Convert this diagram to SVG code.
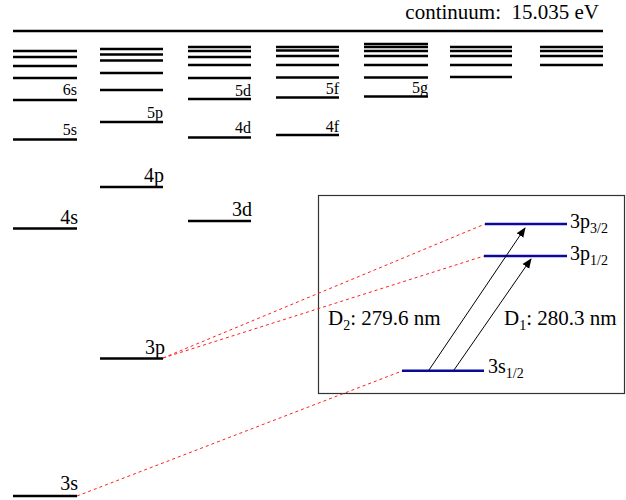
<svg xmlns="http://www.w3.org/2000/svg" width="626" height="500" viewBox="0 0 626 500" font-family="'Liberation Serif','Times New Roman',serif">
<defs>
<style>
.lv{stroke:#000;stroke-width:2.6;fill:none}
.bl{stroke:#0a0a9a;stroke-width:2.6;fill:none}
.t{font-family:'Liberation Serif','Times New Roman',serif;fill:#000}
.s{font-size:16px}
.L{font-size:20px}
.M{font-size:21px}
.rd{stroke:#ff2020;stroke-width:1;stroke-dasharray:3,3;fill:none}
.ar{stroke:#000;stroke-width:1;fill:none}
</style>
<marker id="ah" viewBox="0 0 10 10" refX="9" refY="5" markerWidth="10" markerHeight="10" markerUnits="userSpaceOnUse" orient="auto">
<path d="M0,1 L10,5 L0,9 z" fill="#000"/>
</marker>
</defs>
<rect width="626" height="500" fill="#fff"/>

<g id="continuum">
<line class="lv" x1="13" y1="31" x2="603" y2="31"/>
<text class="t" x="599" y="19" font-size="21" text-anchor="end" xml:space="preserve">continuum:  15.035 eV</text>
</g>

<g id="col-s-high">
<line class="lv" x1="13" y1="51" x2="77" y2="51"/>
<line class="lv" x1="13" y1="57" x2="77" y2="57"/>
<line class="lv" x1="13" y1="66" x2="77" y2="66"/>
<line class="lv" x1="13" y1="78" x2="77" y2="78"/>
</g>
<g id="lvl-6s"><line class="lv" x1="13" y1="100" x2="77" y2="100"/><text class="t s" x="77" y="95" text-anchor="end">6s</text></g>
<g id="lvl-5s"><line class="lv" x1="13" y1="139.5" x2="77" y2="139.5"/><text class="t s" x="77" y="135" text-anchor="end">5s</text></g>
<g id="lvl-4s"><line class="lv" x1="13" y1="228.5" x2="77" y2="228.5"/><text class="t L" x="78" y="224" text-anchor="end">4s</text></g>
<g id="lvl-3s"><line class="lv" x1="13" y1="496" x2="77" y2="496"/><text class="t L" x="78" y="490" text-anchor="end">3s</text></g>

<g id="col-p-high">
<line class="lv" x1="100" y1="49" x2="163" y2="49"/>
<line class="lv" x1="100" y1="54.5" x2="163" y2="54.5"/>
<line class="lv" x1="100" y1="60.5" x2="163" y2="60.5"/>
<line class="lv" x1="100" y1="73" x2="163" y2="73"/>
<line class="lv" x1="100" y1="90" x2="163" y2="90"/>
</g>
<g id="lvl-5p"><line class="lv" x1="100" y1="122" x2="163" y2="122"/><text class="t s" x="163" y="118" text-anchor="end">5p</text></g>
<g id="lvl-4p"><line class="lv" x1="100" y1="187" x2="163" y2="187"/><text class="t L" x="164" y="181.5" text-anchor="end">4p</text></g>
<g id="lvl-3p"><line class="lv" x1="100" y1="358.5" x2="163" y2="358.5"/><text class="t L" x="165" y="354" text-anchor="end">3p</text></g>

<g id="col-d-high">
<line class="lv" x1="188" y1="47" x2="251" y2="47"/>
<line class="lv" x1="188" y1="51" x2="251" y2="51"/>
<line class="lv" x1="188" y1="57" x2="251" y2="57"/>
<line class="lv" x1="188" y1="65" x2="251" y2="65"/>
<line class="lv" x1="188" y1="78" x2="251" y2="78"/>
</g>
<g id="lvl-5d"><line class="lv" x1="188" y1="99" x2="251" y2="99"/><text class="t s" x="251" y="95.5" text-anchor="end">5d</text></g>
<g id="lvl-4d"><line class="lv" x1="188" y1="137.5" x2="251" y2="137.5"/><text class="t s" x="251" y="133.3" text-anchor="end">4d</text></g>
<g id="lvl-3d"><line class="lv" x1="188" y1="221" x2="251" y2="221"/><text class="t L" x="252" y="215.7" text-anchor="end">3d</text></g>

<g id="col-f-high">
<line class="lv" x1="276" y1="47" x2="339" y2="47"/>
<line class="lv" x1="276" y1="50.5" x2="339" y2="50.5"/>
<line class="lv" x1="276" y1="56" x2="339" y2="56"/>
<line class="lv" x1="276" y1="65" x2="339" y2="65"/>
<line class="lv" x1="276" y1="77.5" x2="339" y2="77.5"/>
</g>
<g id="lvl-5f"><line class="lv" x1="276" y1="97.5" x2="339" y2="97.5"/><text class="t s" x="339" y="94.3" text-anchor="end">5f</text></g>
<g id="lvl-4f"><line class="lv" x1="276" y1="135" x2="339" y2="135"/><text class="t s" x="339" y="131.7" text-anchor="end">4f</text></g>

<g id="col-g-high">
<line class="lv" x1="364" y1="44" x2="428" y2="44"/>
<line class="lv" x1="364" y1="47" x2="428" y2="47"/>
<line class="lv" x1="364" y1="51" x2="428" y2="51"/>
<line class="lv" x1="364" y1="56" x2="428" y2="56"/>
<line class="lv" x1="364" y1="65" x2="428" y2="65"/>
<line class="lv" x1="364" y1="77.5" x2="428" y2="77.5"/>
</g>
<g id="lvl-5g"><line class="lv" x1="364" y1="96.5" x2="428" y2="96.5"/><text class="t s" x="428" y="93.3" text-anchor="end">5g</text></g>

<g id="col-h-high">
<line class="lv" x1="450" y1="47" x2="512" y2="47"/>
<line class="lv" x1="450" y1="51" x2="512" y2="51"/>
<line class="lv" x1="450" y1="56" x2="512" y2="56"/>
<line class="lv" x1="450" y1="65" x2="512" y2="65"/>
<line class="lv" x1="450" y1="77" x2="512" y2="77"/>
</g>
<g id="col-i-high">
<line class="lv" x1="540" y1="47" x2="603" y2="47"/>
<line class="lv" x1="540" y1="51" x2="603" y2="51"/>
<line class="lv" x1="540" y1="56" x2="603" y2="56"/>
<line class="lv" x1="540" y1="65" x2="603" y2="65"/>
</g>

<g id="inset">
<rect x="318.5" y="195.5" width="306" height="198" fill="none" stroke="#333" stroke-width="1.2"/>
</g>
<g id="lvl-3p32"><line class="bl" x1="485" y1="224" x2="567" y2="224"/><text class="t L" x="570" y="228">3p<tspan font-size="14" dy="5">3/2</tspan></text></g>
<g id="lvl-3p12"><line class="bl" x1="484" y1="256" x2="567" y2="256"/><text class="t L" x="570" y="260">3p<tspan font-size="14" dy="5">1/2</tspan></text></g>
<g id="lvl-3s12"><line class="bl" x1="402" y1="370.7" x2="484" y2="370.7"/><text class="t L" x="488" y="373">3s<tspan font-size="14" dy="5">1/2</tspan></text></g>

<g id="connectors">
<line class="rd" x1="163" y1="358" x2="485" y2="224"/>
<line class="rd" x1="163" y1="358" x2="484" y2="256"/>
<line class="rd" x1="77" y1="496" x2="402" y2="371"/>
<line class="ar" x1="429" y1="370" x2="525" y2="228" marker-end="url(#ah)"/>
<line class="ar" x1="454" y1="370" x2="531" y2="259" marker-end="url(#ah)"/>
</g>
<g id="labels">
<text class="t M" x="328" y="325">D<tspan font-size="14" dy="5">2</tspan><tspan dy="-5">: 279.6 nm</tspan></text>
<text class="t M" x="504" y="325">D<tspan font-size="14" dy="5">1</tspan><tspan dy="-5">: 280.3 nm</tspan></text>
</g>
</svg>
